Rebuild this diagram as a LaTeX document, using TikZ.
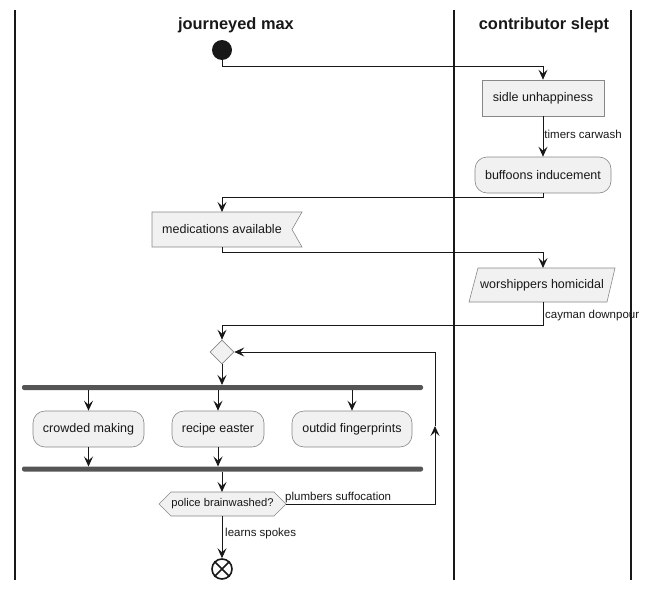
\documentclass[tikz,border=0pt]{standalone}
\usepackage{fontspec}
\setmainfont{Liberation Sans}
\usetikzlibrary{arrows.meta,shapes.geometric}
\definecolor{boxfill}{HTML}{F1F1F1}
\definecolor{ink}{HTML}{181818}
\definecolor{edge}{HTML}{888888}
\definecolor{barcol}{HTML}{555555}
\tikzset{
  lane/.style={draw=ink,line width=1.2pt},
  title/.style={font=\bfseries\fontsize{16.4}{18}\selectfont,text=ink},
  act/.style={draw=edge,fill=boxfill,line width=0.6pt,minimum height=36pt,inner sep=0pt,font=\fontsize{12.5}{14}\selectfont,text=ink},
  ract/.style={act,rounded corners=12pt},
  shapebox/.style={draw=edge,fill=boxfill,line width=0.6pt},
  txt/.style={font=\fontsize{12.5}{14}\selectfont,text=ink,inner sep=0pt},
  smalltxt/.style={font=\fontsize{11.2}{13}\selectfont,text=ink,inner sep=0pt},
  lbl/.style={font=\fontsize{11.5}{13}\selectfont,text=ink,inner sep=1pt},
  arr/.style={draw=ink,line width=0.9pt,-{Stealth[length=10pt,width=9pt,inset=4pt]}},
  ln/.style={draw=ink,line width=0.9pt},
  bar/.style={fill=barcol,rounded corners=2pt},
}
\begin{document}
\begin{tikzpicture}[x=1pt,y=-1pt]
\useasboundingbox (0,0) rectangle (648,589);
% lanes
\draw[lane] (15,10) -- (15,580);
\draw[lane] (454,10) -- (454,580);
\draw[lane] (631,10) -- (631,580);
\node[title] (t1) at (236,25) {journeyed max};
\node[title] (t2) at (544,25) {contributor slept};
% start
\node[circle,fill=ink,minimum size=20pt,inner sep=0pt] (start) at (222,50) {};
% sidle
\node[act,minimum width=122pt] (sidle) at (543,98) {sidle unhappiness};
\node[ract,minimum width=136pt] (buff) at (543,175) {buffoons inducement};
% medications flag
\draw[shapebox] (152,212) -- (302,212) -- (292,229.5) -- (302,247) -- (152,247) -- cycle;
\node[txt] (med) at (222,229.5) {medications available};
\coordinate (medN) at (222,212);
\coordinate (medS) at (222,247);
% worshippers parallelogram
\draw[shapebox] (478,268) -- (615,268) -- (607,302) -- (469,302) -- cycle;
\node[txt] (wor) at (542,285) {worshippers homicidal};
\coordinate (worN) at (543,268);
\coordinate (worS) at (543,302);
% diamond
\node[diamond,draw=edge,fill=boxfill,line width=0.6pt,minimum size=24pt,inner sep=0pt] (dia) at (222,352) {};
% bars
\fill[bar] (22,385) rectangle (423,390);
\fill[bar] (22,466.5) rectangle (423,471.5);
\coordinate (forkT) at (222,385);
\coordinate (forkB1) at (88.5,390);
\coordinate (forkB2) at (218,390);
\coordinate (forkB3) at (352,390);
\coordinate (joinT1) at (88.5,466.5);
\coordinate (joinT2) at (218,466.5);
\coordinate (joinB) at (222,471.5);
% parallel activities
\node[ract,minimum width=111pt] (crowd) at (88.5,429) {crowded making};
\node[ract,minimum width=92pt] (recipe) at (218,429) {recipe easter};
\node[ract,minimum width=120pt] (outdid) at (352,429) {outdid fingerprints};
% hexagon
\draw[shapebox] (159,504) -- (171,492) -- (274,492) -- (286,504) -- (274,516) -- (171,516) -- cycle;
\node[smalltxt] (hex) at (222.5,504) {police brainwashed?};
\coordinate (hexN) at (222,492);
\coordinate (hexS) at (222,516);
\coordinate (hexE) at (286,504);
% end
\node[circle,draw=ink,line width=1.6pt,fill=white,minimum size=20pt,inner sep=0pt] (stop) at (222,569) {};
\draw[ink,line width=1.6pt] (stop.north east) -- (stop.south west) (stop.north west) -- (stop.south east);
% connectors
\draw[arr] (start.south) -- ++(0,6) -| (sidle.north);
\draw[arr] (sidle.south) -- node[lbl,anchor=west,pos=0.45] (l1) {timers carwash} (buff.north);
\draw[arr] (buff.south) -- ++(0,4) -| (medN);
\draw[arr] (medS) -- ++(0,5) -| (worN);
\draw[arr] (worS) -- ++(0,23) -| (dia.north);
\node[lbl,anchor=west] (l2) at (544,316) {cayman downpour};
\draw[arr] (dia.south) -- (forkT);
\draw[arr] (forkB1) -- (crowd.north);
\draw[arr] (forkB2) -- (recipe.north);
\draw[arr] (forkB3) -- (outdid.north);
\draw[arr] (crowd.south) -- (joinT1);
\draw[arr] (recipe.south) -- (joinT2);
\draw[arr] (joinB) -- (hexN);
\coordinate (up) at (435,426);
\draw[arr] (hexE) -| (up);
\draw[arr] (up) |- (dia.east);
\node[lbl,anchor=south west] (l3) at (284,504) {plumbers suffocation};
\draw[arr] (hexS) -- (stop.north);
\node[lbl,anchor=west] (l4) at (224,534) {learns spokes};
\end{tikzpicture}
\end{document}
